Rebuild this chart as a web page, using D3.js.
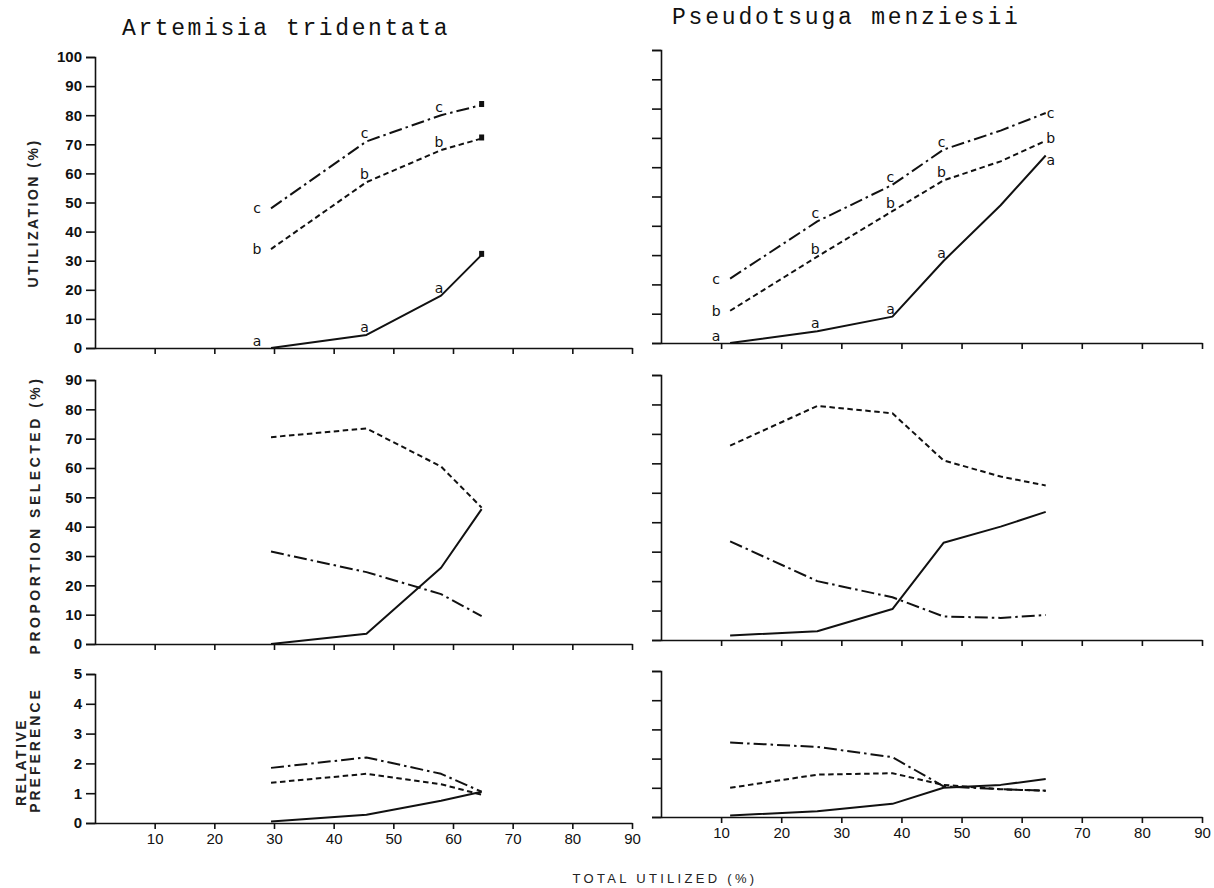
<!DOCTYPE html>
<html>
<head>
<meta charset="utf-8">
<script src="https://cdn.jsdelivr.net/npm/d3@7"></script>
<style>
  body { margin: 0; background: #fff; }
  svg { display: block; }
</style>
</head>
<body>
<div id="chart"></div>
<script>
// total utilized (%) at each sampling date
const artemisiaX = [29.5, 45.5, 58, 64.8];
const pseudotsugaX = [11.5, 26, 38.5, 47, 56.5, 64];

// utilization (%) of twig classes a, b, c
const artUtilA = [0, 4.5, 18, 32];
const artUtilB = [34, 57, 68, 72];
const artUtilC = [48, 71, 80, 83.5];
const psmUtilA = [0, 4, 9, 28, 47, 64];
const psmUtilB = [11, 29.5, 45, 55.5, 62, 69];
const psmUtilC = [22, 41.5, 54, 66, 72.5, 78.5];

// proportion selected (%)
const artPropA = [0, 3.5, 26, 46];
const artPropB = [70.5, 73.5, 60.5, 46.5];
const artPropC = [31.5, 24.5, 17, 9.5];
const psmPropA = [1.5, 3, 10.5, 33, 38.5, 43.5];
const psmPropB = [66, 79.5, 77, 61, 55.5, 52.5];
const psmPropC = [33.5, 20, 14.5, 8, 7.5, 8.5];

// relative preference
const artPrefA = [0.05, 0.28, 0.75, 1.05];
const artPrefB = [1.35, 1.65, 1.3, 0.95];
const artPrefC = [1.85, 2.2, 1.65, 1.05];
const psmPrefA = [0.05, 0.2, 0.45, 1.0, 1.1, 1.3];
const psmPrefB = [1.0, 1.45, 1.5, 1.1, 0.95, 0.9];
const psmPrefC = [2.55, 2.4, 2.05, 1.05, 0.95, 0.9];

// ticks and labels
const xTickValues = [10, 20, 30, 40, 50, 60, 70, 80, 90];
const utilTicks = [0, 10, 20, 30, 40, 50, 60, 70, 80, 90, 100];
const propTicks = [0, 10, 20, 30, 40, 50, 60, 70, 80, 90];
const prefTicks = [0, 1, 2, 3, 4, 5];
const seriesNames = ["a", "b", "c"];
const speciesTitles = ["Artemisia tridentata", "Pseudotsuga menziesii"];

const width = 1214, height = 888;

const svg = d3.select("#chart")
    .append("svg")
    .attr("width", width)
    .attr("height", height)
    .style("font-family", "'Liberation Sans', Arial, sans-serif");

const xLeft = d3.scaleLinear().domain([0, 90]).range([95, 632]);
const xRight = d3.scaleLinear().domain([0, 90]).range([661, 1202]);

// dash patterns: a solid, b dashed, c dash-dot
const dashes = { a: null, b: "5.5,3.5", c: "13,4,2.5,4" };

const panels = [
    { x: xLeft, xs: artemisiaX, domain: [0, 100], range: [348, 57], ticks: utilTicks, yLabels: true, xLabels: false,
      series: [artUtilA, artUtilB, artUtilC], letters: [0, 1, 2], squares: [3] },
    { x: xLeft, xs: artemisiaX, domain: [0, 90], range: [644, 380], ticks: propTicks, yLabels: true, xLabels: false,
      series: [artPropA, artPropB, artPropC] },
    { x: xLeft, xs: artemisiaX, domain: [0, 5], range: [823, 674], ticks: prefTicks, yLabels: true, xLabels: true,
      series: [artPrefA, artPrefB, artPrefC] },
    { x: xRight, xs: pseudotsugaX, domain: [0, 100], range: [343, 50], ticks: utilTicks, yLabels: false, xLabels: false,
      series: [psmUtilA, psmUtilB, psmUtilC], letters: [0, 1, 2, 3, 5], squares: [] },
    { x: xRight, xs: pseudotsugaX, domain: [0, 90], range: [640, 375], ticks: propTicks, yLabels: false, xLabels: false,
      series: [psmPropA, psmPropB, psmPropC] },
    { x: xRight, xs: pseudotsugaX, domain: [0, 5], range: [817, 671], ticks: prefTicks, yLabels: false, xLabels: true,
      series: [psmPrefA, psmPrefB, psmPrefC] }
];

function styleAxis(sel, fontSize, weight) {
    sel.selectAll("path, line").attr("stroke", "#111").attr("stroke-width", 1.6);
    sel.selectAll("text")
        .attr("fill", "#111")
        .style("font-family", "'Liberation Sans', Arial, sans-serif")
        .style("font-size", fontSize + "px")
        .style("font-weight", weight);
}

for (const p of panels) {
    const y = d3.scaleLinear().domain(p.domain).range(p.range);
    const g = svg.append("g");
    const lastIdx = p.xs.length - 1;

    // y axis
    const yAxis = g.append("g")
        .attr("transform", `translate(${p.x(0)},0)`)
        .call(d3.axisLeft(y).tickValues(p.ticks).tickSize(9).tickPadding(4)
            .tickFormat(p.yLabels ? d3.format("d") : ""));
    styleAxis(yAxis, 15, "bold");

    // x axis
    const xAxis = g.append("g")
        .attr("transform", `translate(0,${y(0)})`)
        .call(d3.axisBottom(p.x).tickValues(xTickValues).tickSize(6).tickSizeOuter(0).tickPadding(4)
            .tickFormat(p.xLabels ? d3.format("d") : ""));
    styleAxis(xAxis, 15, "normal");

    const line = d3.line()
        .x((d, i) => p.x(p.xs[i]))
        .y(d => y(d));

    p.series.forEach((vals, k) => {
        const name = seriesNames[k];
        g.append("path")
            .datum(vals)
            .attr("d", line)
            .attr("fill", "none")
            .attr("stroke", "#111")
            .attr("stroke-width", 2)
            .attr("stroke-linejoin", "round")
            .attr("stroke-dasharray", dashes[name]);

        if (p.letters) {
            // first point: letter to the left; last point: letter after the line end; others above
            const lastDy = name === "a" ? 10 : (name === "b" ? 2 : 5);
            const dx = i => i === 0 ? -14 : (i === lastIdx ? 5 : -2);
            const dy = i => i === 0 ? (vals[i] === 0 ? -2 : 5) : (i === lastIdx ? lastDy : -3);
            g.selectAll(null)
                .data(p.letters)
                .enter()
                .append("text")
                .attr("x", i => p.x(p.xs[i]) + dx(i))
                .attr("y", i => y(vals[i]) + dy(i))
                .attr("text-anchor", "middle")
                .style("font-family", "'DejaVu Sans', sans-serif")
                .style("font-size", "14px")
                .attr("fill", "#111")
                .text(name);

            g.selectAll(null)
                .data(p.squares)
                .enter()
                .append("rect")
                .attr("x", i => p.x(p.xs[i]) - 2.5)
                .attr("y", i => y(vals[i]) - 4)
                .attr("width", 5)
                .attr("height", 6)
                .attr("fill", "#111");
        }
    });
}

// species titles
svg.append("text")
    .attr("x", 122).attr("y", 35)
    .style("font-family", "'Liberation Mono', 'Courier New', monospace")
    .style("font-size", "23px")
    .style("letter-spacing", "2.6px")
    .attr("fill", "#111")
    .text(speciesTitles[0]);

svg.append("text")
    .attr("x", 672).attr("y", 24)
    .style("font-family", "'Liberation Mono', 'Courier New', monospace")
    .style("font-size", "23px")
    .style("letter-spacing", "2.8px")
    .attr("fill", "#111")
    .text(speciesTitles[1]);

// y axis titles
function yTitle(txt, x, y, spacing) {
    svg.append("text")
        .attr("transform", `translate(${x},${y}) rotate(-90)`)
        .attr("text-anchor", "middle")
        .style("font-size", "14px")
        .style("font-weight", "bold")
        .style("letter-spacing", spacing + "px")
        .attr("fill", "#222")
        .text(txt);
}
yTitle("UTILIZATION (%)", 38, 213, 2.5);
yTitle("PROPORTION SELECTED (%)", 40, 515, 3.5);
yTitle("RELATIVE", 26, 762, 2.5);
yTitle("PREFERENCE", 40, 750, 3);

// x axis title
svg.append("text")
    .attr("x", 665).attr("y", 883)
    .attr("text-anchor", "middle")
    .style("font-size", "13px")
    .style("letter-spacing", "3.3px")
    .attr("fill", "#222")
    .text("TOTAL UTILIZED (%)");
</script>
</body>
</html>
